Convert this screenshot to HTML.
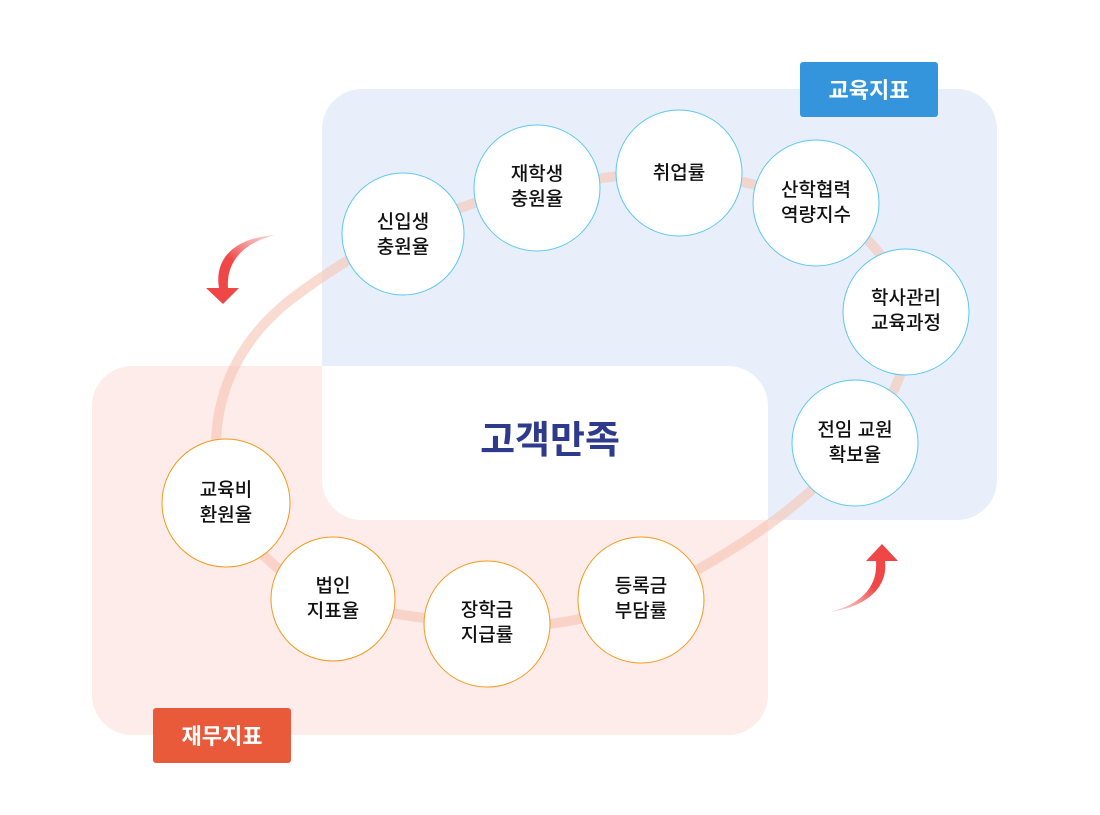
<!DOCTYPE html>
<html><head><meta charset="utf-8"><style>
body{margin:0;background:#fff;width:1100px;height:815px;overflow:hidden;font-family:"Liberation Sans","Noto Sans CJK KR",sans-serif}
</style></head><body>
<svg width="1100" height="815" viewBox="0 0 1100 815" xmlns="http://www.w3.org/2000/svg" style="position:absolute;left:0;top:0">
<defs>
<linearGradient id="ar1" x1="1" y1="0" x2="0" y2="1"><stop offset="0" stop-color="#f7a0a0" stop-opacity="0.4"/><stop offset="0.5" stop-color="#ef4848"/><stop offset="1" stop-color="#ef4444"/></linearGradient>
<linearGradient id="ar2" x1="0" y1="1" x2="1" y2="0"><stop offset="0" stop-color="#f7a0a0" stop-opacity="0.4"/><stop offset="0.5" stop-color="#ef4848"/><stop offset="1" stop-color="#ef4444"/></linearGradient>
</defs>
<rect x="322" y="89" width="675" height="431" rx="40" fill="#e8effb"/>
<rect x="92" y="366" width="676" height="369" rx="40" fill="#fdece9"/>
<path d="M322,366 L728,366 A40,40 0 0 1 768,406 L768,520 L362,520 A40,40 0 0 1 322,480 Z" fill="#fff"/>
<path d="M225,503 C205,440 215,360 290,300 C330,270 370,245 403,233 C450,210 490,195 537,188 C590,180 630,172 679,173 C730,175 775,190 816,203 C860,225 895,260 906,311 C915,360 890,410 855,443 C820,490 760,540 641,600 C590,620 540,630 487,624 C440,620 380,615 333,599 C290,585 250,550 225,503 Z" fill="none" stroke="#f6c3b3" stroke-opacity="0.6" stroke-width="10"/>
<path d="M275,235 C235,238 214,258 219,288 L206,288 L223,304 L239,288 L228,288 C226,262 243,243 275,235 Z" fill="url(#ar1)"/>
<path d="M830,612 C870,606 888,585 885,561 L898,561 L882,544 L866,561 L876,561 C878,586 862,604 830,612 Z" fill="url(#ar2)"/>
<g fill="#fff" stroke="#5cc8f0" stroke-width="1">
<circle cx="403" cy="234" r="61"/><circle cx="537" cy="188" r="63"/><circle cx="679" cy="173" r="63"/><circle cx="816" cy="203" r="63"/><circle cx="906" cy="312" r="63"/><circle cx="855" cy="443" r="63"/>
</g>
<g fill="#fff" stroke="#f29a1a" stroke-width="1">
<circle cx="226" cy="503" r="64"/><circle cx="333" cy="599" r="62"/><circle cx="487" cy="624" r="63"/><circle cx="641" cy="600" r="63"/>
</g>
<g font-family="Liberation Sans, Noto Sans CJK KR, sans-serif" font-size="19" fill="#111" text-anchor="middle" font-weight="500">
<text x="403" y="228">신입생</text><text x="403" y="253">충원율</text>
<text x="537" y="180">재학생</text><text x="537" y="205">충원율</text>
<text x="679" y="179">취업률</text>
<text x="816" y="196">산학협력</text><text x="816" y="221">역량지수</text>
<text x="906" y="304">학사관리</text><text x="906" y="329">교육과정</text>
<text x="855" y="436">전임 교원</text><text x="855" y="461">확보율</text>
<text x="226" y="496">교육비</text><text x="226" y="521">환원율</text>
<text x="333" y="592">법인</text><text x="333" y="617">지표율</text>
<text x="487" y="616">장학금</text><text x="487" y="641">지급률</text>
<text x="641" y="592">등록금</text><text x="641" y="617">부담률</text>
</g>
<text x="550" y="453" text-anchor="middle" font-family="Liberation Sans, Noto Sans CJK KR, sans-serif" font-size="38" font-weight="bold" fill="#2e3a8c">고객만족</text>
<rect x="800" y="62" width="138" height="55" rx="3" fill="#3595dc"/>
<text x="869" y="98" text-anchor="middle" font-family="Liberation Sans, Noto Sans CJK KR, sans-serif" font-size="22" font-weight="bold" fill="#fff">교육지표</text>
<rect x="153" y="708" width="138" height="55" rx="3" fill="#e85a3a"/>
<text x="222" y="744" text-anchor="middle" font-family="Liberation Sans, Noto Sans CJK KR, sans-serif" font-size="22" font-weight="bold" fill="#fff">재무지표</text>
</svg>
</body></html>
